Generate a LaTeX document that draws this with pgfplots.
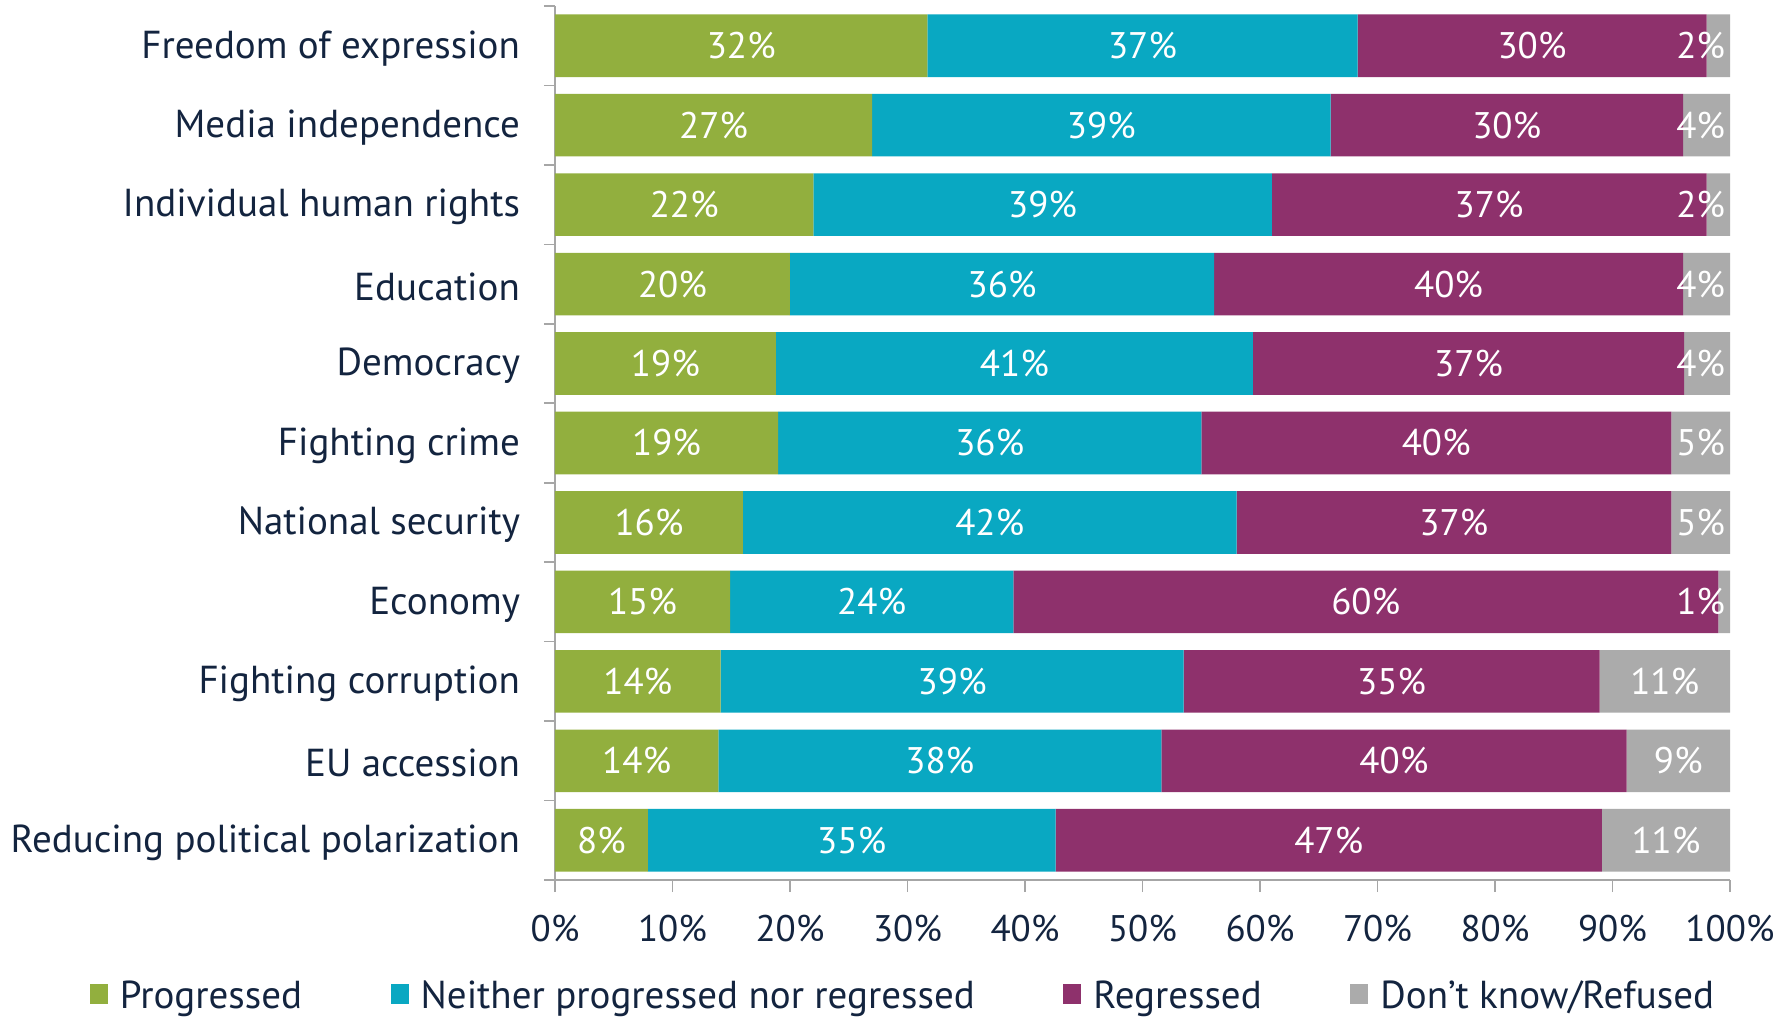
\documentclass[border=0pt]{standalone}
\usepackage{pgfplots}
\pgfplotsset{compat=1.18}
\usepackage{pgfplotstable}
\usepackage{fontspec}
\setmainfont{PT Sans}
\definecolor{cgreen}{HTML}{92AF3E}
\definecolor{cblue}{HTML}{09A8C2}
\definecolor{cpurple}{HTML}{8E316C}
\definecolor{cgray}{HTML}{ABABAB}
\definecolor{navy}{HTML}{13243F}
\definecolor{axisgray}{HTML}{A6A6A6}
\newcommand{\lblfont}{\fontsize{19.5}{23}\selectfont}
\newcommand{\numfont}{\fontsize{18.5}{22}\selectfont}

\pgfplotstableread{
y g b p k gl bl pl kl
0 7.9 34.7 46.5 10.9 8 35 47 11
1 13.9 37.7 39.6 8.8 14 38 40 9
2 14.1 39.4 35.4 11.1 14 39 35 11
3 14.9 24.1 60.0 1.0 15 24 60 1
4 16.0 42.0 37.0 5.0 16 42 37 5
5 19.0 36.0 40.0 5.0 19 36 40 5
6 18.8 40.6 36.7 3.9 19 41 37 4
7 20.0 36.1 39.9 4.0 20 36 40 4
8 22.0 39.0 37.0 2.0 22 39 37 2
9 27.0 39.0 30.0 4.0 27 39 30 4
10 31.7 36.6 29.7 2.0 32 37 30 2
}\data

\begin{document}
\begin{tikzpicture}
\useasboundingbox (-277.5pt,-68.5pt) rectangle (615.5pt,440pt);
\begin{axis}[
  scale only axis, width=587.5pt, height=437pt,
  xbar stacked, bar width=31.3pt,
  xmin=0, xmax=100, ymin=-0.5, ymax=10.5,
  axis x line*=bottom, axis y line*=left,
  axis line style={axisgray, line width=0.8pt},
  xtick={0,10,...,100},
  xticklabels={0\%,10\%,20\%,30\%,40\%,50\%,60\%,70\%,80\%,90\%,100\%},
  ytick={0,...,10},
  yticklabels={Reducing political polarization, EU accession, Fighting corruption, Economy, National security, Fighting crime, Democracy, Education, Individual human rights, Media independence, Freedom of expression},
  minor ytick={-0.5,0.5,...,10.5},
  tick align=outside, major tick length=6pt, minor tick length=5.5pt,
  tick style={axisgray, line width=0.8pt},
  major y tick style={draw=none},
  yticklabel style={font=\lblfont, text=navy, xshift=-8pt, yshift=-1.3pt},
  xticklabel style={font=\numfont, text=navy, yshift=-8pt},
  /pgf/number format/assume math mode=true,
  point meta=explicit,
  nodes near coords={\pgfmathprintnumber{\pgfplotspointmeta}\%},
  every node near coord/.style={text=white, font=\numfont, anchor=center, xshift={-2.9375pt*(max(\segw,5)-\segw)}},
  legend style={draw=none, fill=none, at={(0.297,-0.1325)}, anchor=center,
    font=\lblfont, text=navy,
    /tikz/every even column/.append style={column sep=42.3pt},
    /tikz/every odd column/.append style={column sep=4pt}},
  legend columns=4,
  legend cell align=left,
  legend image code/.code={\fill[#1] (0pt,-4pt) rectangle (9pt,6pt);},
]
\addplot[fill=cgreen, draw=none, visualization depends on={\thisrow{g}\as\segw}] table[x=g, y=y, meta=gl] \data;
\addplot[fill=cblue, draw=none, visualization depends on={\thisrow{b}\as\segw}] table[x=b, y=y, meta=bl] \data;
\addplot[fill=cpurple, draw=none, visualization depends on={\thisrow{p}\as\segw}] table[x=p, y=y, meta=pl] \data;
\addplot[fill=cgray, draw=none, visualization depends on={\thisrow{k}\as\segw}] table[x=k, y=y, meta=kl] \data;
\legend{Progressed, Neither progressed nor regressed, Regressed, Don't know/Refused}
\end{axis}
\end{tikzpicture}
\end{document}
